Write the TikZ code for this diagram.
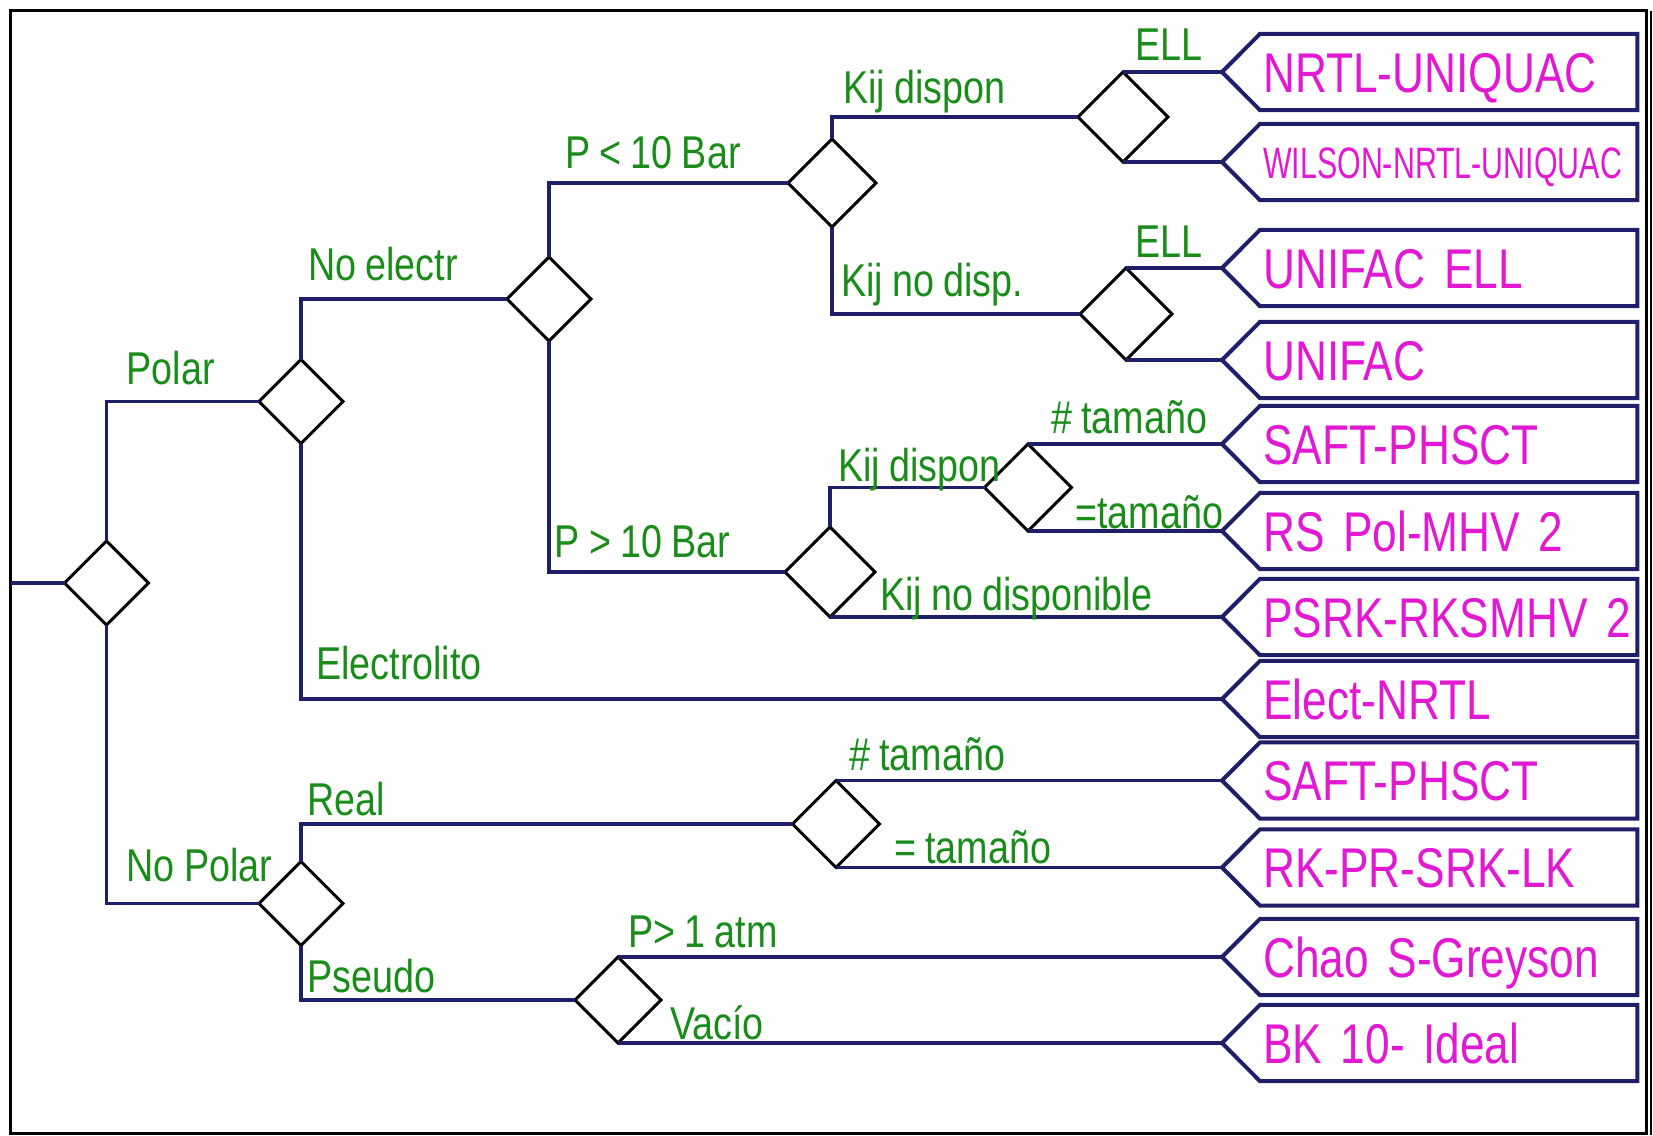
\documentclass[tikz,border=0pt]{standalone}
\usepackage{fontspec}
\setmainfont{Liberation Sans}
\newfontfamily\lblfont[FakeStretch=0.82]{Liberation Sans}
\newfontfamily\boxfont[FakeStretch=0.79]{Liberation Sans}
\newfontfamily\boxfontn[FakeStretch=0.69]{Liberation Sans}
\newcommand\narrowspace{\spaceskip=0.2em\relax}
\usetikzlibrary{shapes.geometric}
\definecolor{navy}{RGB}{30,30,105}
\definecolor{lblgreen}{RGB}{25,140,25}
\definecolor{mag}{RGB}{225,25,210}
\begin{document}
\begin{tikzpicture}[x=1pt,y=-1pt,
  decision/.style={diamond, draw=black, line width=3pt, minimum size=#1, inner sep=0pt, outer sep=0pt, aspect=1},
  decision/.default=86pt,
  conn/.style={draw=navy, line width=3.5pt},
  lbl/.style={anchor=base west, inner sep=0pt, text=lblgreen, font={\lblfont\fontsize{46}{50}\selectfont\narrowspace}},
  modelbox/.style={anchor=west, minimum height=76pt, text width=371pt, inner xsep=3pt, inner ysep=0pt, align=left, text=mag, font={\boxfont\fontsize{56}{60}\selectfont\narrowspace}, text height=40pt, text depth=0pt},
  boxline/.style={draw=navy, line width=4pt, line join=miter},
  frameline/.style={draw=black, line width=3pt}]
\useasboundingbox (0,0) rectangle (1653,1135);
\draw[frameline] (10.5,10.5) rectangle (1646.5,1133.5);
\draw[black, line width=1.5pt] (1651,10.5) -- (1651,1135);

% decision diamonds
\node[decision=84pt] (A) at (106.5,583) {};
\node[decision=84pt] (B) at (301,401.5) {};
\node[decision=84pt] (I) at (301,903.5) {};
\node[decision=84pt] (C) at (549,299) {};
\node[decision=88pt] (D) at (832,183) {};
\node[decision=90pt] (E) at (830,572) {};
\node[decision=90pt] (F) at (1123,117) {};
\node[decision=92pt] (G) at (1126,314) {};
\node[decision=87pt] (H) at (1028,487.5) {};
\node[decision=87pt] (J) at (836,824) {};
\node[decision=86pt] (K) at (618,1000) {};

% model boxes
\node[modelbox] (b1) at (1260,72) {NRTL-UNIQUAC};
\node[modelbox, font={\boxfontn\fontsize{44}{48}\selectfont}, text height=32pt] (b2) at (1260,162) {WILSON-NRTL-UNIQUAC};
\node[modelbox] (b3) at (1260,268) {UNIFAC ELL};
\node[modelbox] (b4) at (1260,360) {UNIFAC};
\node[modelbox] (b5) at (1260,444) {SAFT-PHSCT};
\node[modelbox] (b6) at (1260,531) {RS Pol-MHV 2};
\node[modelbox] (b7) at (1260,617) {PSRK-RKSMHV 2};
\node[modelbox] (b8) at (1260,699) {Elect-NRTL};
\node[modelbox] (b9) at (1260,780.5) {SAFT-PHSCT};
\node[modelbox] (b10) at (1260,867.5) {RK-PR-SRK-LK};
\node[modelbox] (b11) at (1260,957) {Chao S-Greyson};
\node[modelbox] (b12) at (1260,1043) {BK 10- Ideal};
\foreach \i in {1,...,12}{
  \coordinate (t\i) at ([xshift=-38pt]b\i.west);
  \draw[boxline] (b\i.north west) -- (b\i.north east) -- (b\i.south east) -- (b\i.south west) -- (t\i) -- cycle;
}

% connectors
\coordinate (in) at (10.5,583);
\draw[conn] (in) -- (A.west);
\draw[conn] (A.north) |- (B.west);
\draw[conn] (A.south) |- (I.west);
\draw[conn] (B.north) |- (C.west);
\draw[conn] (B.south) |- (t8);
\draw[conn] (C.north) |- (D.west);
\draw[conn] (C.south) |- (E.west);
\draw[conn] (D.north) |- (F.west);
\draw[conn] (D.south) |- (G.west);
\draw[conn] (F.north) -- (t1);
\draw[conn] (F.south) -- (t2);
\draw[conn] (G.north) -- (t3);
\draw[conn] (G.south) -- (t4);
\draw[conn] (E.north) |- (H.west);
\draw[conn] (H.north) -- (t5);
\draw[conn] (H.south) -- (t6);
\draw[conn] (E.south) -- (t7);
\draw[conn] (I.north) |- (J.west);
\draw[conn] (J.north) -- (t9);
\draw[conn] (J.south) -- (t10);
\draw[conn] (I.south) |- (K.west);
\draw[conn] (K.north) -- (t11);
\draw[conn] (K.south) -- (t12);

% labels
\node[lbl] (lPolar) at (126.5,384) {Polar};
\node[lbl] (lNoPolar) at (126.5,881) {No Polar};
\node[lbl] (lNoElectr) at (308,280) {No electr};
\node[lbl] (lElectrolito) at (316,679) {Electrolito};
\node[lbl] (lPlt) at (565,168) {P < 10 Bar};
\node[lbl] (lPgt) at (554.5,557) {P > 10 Bar};
\node[lbl] (lKd1) at (843,103) {Kij dispon};
\node[lbl] (lKnd1) at (841,296) {Kij no disp.};
\node[lbl] (lELL1) at (1135,60) {ELL};
\node[lbl] (lELL2) at (1135,257) {ELL};
\node[lbl] (lKd2) at (838,481) {Kij dispon};
\node[lbl] (lT1) at (1051,433) {\# tamaño};
\node[lbl] (lT2) at (1075,528) {=tamaño};
\node[lbl] (lKnd2) at (880,610) {Kij no disponible};
\node[lbl] (lReal) at (307,815) {Real};
\node[lbl] (lT3) at (849,770) {\# tamaño};
\node[lbl] (lT4) at (894,863) {= tamaño};
\node[lbl] (lPseudo) at (307,992) {Pseudo};
\node[lbl] (lPatm) at (628,947) {P> 1 atm};
\node[lbl] (lVacio) at (670,1039) {Vacío};
\end{tikzpicture}
\end{document}
